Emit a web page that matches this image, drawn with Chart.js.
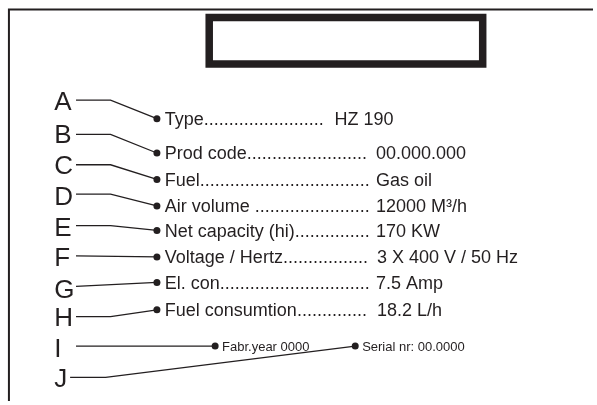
<!DOCTYPE html>
<html>
<head>
<meta charset="utf-8">
<script src="https://cdn.jsdelivr.net/npm/chart.js@4.4.1/dist/chart.umd.min.js"></script>
<style>
  html, body { margin: 0; padding: 0; background: #fff; }
  #wrap { width: 597px; height: 405px; position: relative; }
</style>
</head>
<body>
<div id="wrap"><canvas id="plate"></canvas></div>
<script>
// diagram data, in picture units (x right, y down)
const letters = ['A', 'B', 'C', 'D', 'E', 'F', 'G', 'H', 'I', 'J'];
const letterY = [99, 132, 164, 196, 227, 258, 290, 319, 351, 381];

const rowLabels = ['Type', 'Prod code', 'Fuel', 'Air volume ', 'Net capacity (hi)', 'Voltage / Hertz', 'El. con', 'Fuel consumtion'];
const rowValues = ['HZ 190', '00.000.000', 'Gas oil', '12000 M³/h', '170 KW', '3 X 400 V / 50 Hz', '7.5 Amp', '18.2 L/h'];
const rowY = [117, 152, 179, 206, 231, 258, 284, 312];
const valueX = [335, 377, 377, 377, 377, 378, 377, 378];

const smallLabels = ['Fabr.year 0000', 'Serial nr: 00.0000'];
const smallDotX = [214, 356];
const smallY = [349, 349];

// leader lines: letter -> bend -> dot
const leaders = [
  [[73, 98], [108, 98], [155, 117]],
  [[73, 133], [108, 133], [155, 152]],
  [[73, 164], [108, 164], [155, 179]],
  [[73, 194], [108, 194], [155, 206]],
  [[73, 226], [108, 226], [155, 231]],
  [[73, 257], [155, 258]],
  [[73, 288], [155, 284]],
  [[73, 319], [108, 319], [155, 312]],
  [[73, 349], [214, 349]],
  [[67, 381], [103, 381], [356, 349]]
];

const dotX = 155;
const ink = '#231f20';

const frame = [[5, 405], [5, 5.5], [597, 5.5]];
const plateBox = [[208, 13.7], [485.2, 13.7], [485.2, 61.3], [208, 61.3], [208, 13.7]];

function pts(list) { return list.map(p => ({ x: p[0], y: p[1] })); }

const datasets = [];
datasets.push({ data: pts(frame), borderColor: ink, borderWidth: 2, pointRadius: 0, borderJoinStyle: 'miter' });
datasets.push({ data: pts(plateBox), borderColor: ink, borderWidth: 7.5, pointRadius: 0, borderJoinStyle: 'miter', borderCapStyle: 'square' });
leaders.forEach(l => {
  datasets.push({
    data: pts(l),
    borderColor: ink,
    borderWidth: 1.3,
    pointRadius: l.map((p, i) => i === l.length - 1 ? 3.5 : 0),
    pointBackgroundColor: ink,
    pointBorderWidth: 0
  });
});

const textPlugin = {
  id: 'plateText',
  afterDatasetsDraw(chart) {
    const ctx = chart.ctx;
    const xs = chart.scales.x, ys = chart.scales.y;
    ctx.save();
    ctx.fillStyle = ink;
    ctx.textBaseline = 'alphabetic';
    ctx.textAlign = 'left';

    // big letters
    ctx.font = '26px "Liberation Sans", Arial, sans-serif';
    letters.forEach((t, i) => {
      ctx.fillText(t, xs.getPixelForValue(51), ys.getPixelForValue(letterY[i]) + 9.3);
    });

    // rows with dotted leaders
    ctx.font = '18px "Liberation Sans", Arial, sans-serif';
    rowLabels.forEach((lab, i) => {
      const x0 = xs.getPixelForValue(dotX + 8);
      const vx = xs.getPixelForValue(valueX[i]);
      const base = ys.getPixelForValue(rowY[i]) + 6.4;
      let s = lab;
      while (x0 + ctx.measureText(s + '.').width <= vx - 6) s += '.';
      ctx.fillText(s, x0, base);
      ctx.fillText(rowValues[i], vx, base);
    });

    ctx.font = '13px "Liberation Sans", Arial, sans-serif';
    smallLabels.forEach((lab, i) => {
      ctx.fillText(lab, xs.getPixelForValue(smallDotX[i] + 7), ys.getPixelForValue(smallY[i]) + 4.7);
    });
    ctx.restore();
  }
};

new Chart(document.getElementById('plate'), {
  type: 'scatter',
  data: { datasets: datasets },
  options: {
    responsive: true,
    maintainAspectRatio: false,
    animation: false,
    showLine: true,
    layout: { padding: 0 },
    scales: {
      x: { type: 'linear', min: 0, max: 597, display: false },
      y: { type: 'linear', min: 0, max: 405, reverse: true, display: false }
    },
    plugins: {
      legend: { display: false },
      tooltip: { enabled: false }
    },
    elements: { line: { tension: 0 } }
  },
  plugins: [textPlugin]
});
</script>
</body>
</html>
